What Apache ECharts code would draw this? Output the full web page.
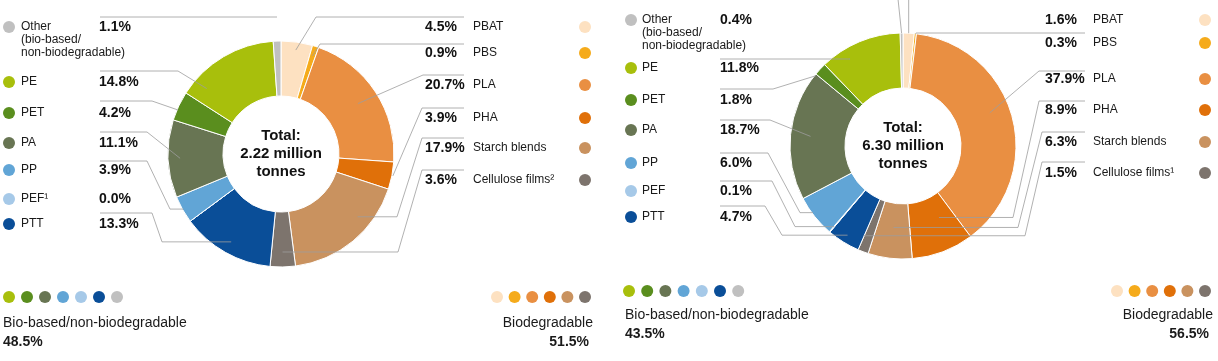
<!DOCTYPE html>
<html><head><meta charset="utf-8">
<script src="https://cdn.jsdelivr.net/npm/echarts@6/dist/echarts.min.js"></script>
<style>html,body{margin:0;padding:0;background:#fff}#c{width:1218px;height:361px}</style>
</head><body><div id="c"></div>
<script>
// ---- data ----
const categories = ['PBAT', 'PBS', 'PLA', 'PHA', 'Starch blends', 'Cellulose films', 'PTT', 'PEF', 'PP', 'PA', 'PET', 'PE', 'Other'];
const labelsLeft = ['PBAT', 'PBS', 'PLA', 'PHA', 'Starch blends', 'Cellulose films\u00B2', 'PTT', 'PEF\u00B9', 'PP', 'PA', 'PET', 'PE', 'Other\n(bio-based/\nnon-biodegradable)'];
const labelsRight = ['PBAT', 'PBS', 'PLA', 'PHA', 'Starch blends', 'Cellulose films\u00B9', 'PTT', 'PEF', 'PP', 'PA', 'PET', 'PE', 'Other\n(bio-based/\nnon-biodegradable)'];
const valuesLeft = [4.5, 0.9, 20.7, 3.9, 17.9, 3.6, 13.3, 0.0, 3.9, 11.1, 4.2, 14.8, 1.1];
const valuesRight = [1.6, 0.3, 37.9, 8.9, 6.3, 1.5, 4.7, 0.1, 6.0, 18.7, 1.8, 11.8, 0.4];
const colors = ['#fde1c1', '#f5ab1b', '#e98f42', '#e07009', '#c9925f', '#7d746d', '#0a4e98', '#a6c9e8', '#61a5d6', '#687553', '#5a8e1e', '#a8bf0c', '#c0c0c0'];
const totalLeft = ['Total:', '2.22 million', 'tonnes'];
const totalRight = ['Total:', '6.30 million', 'tonnes'];
const groupNames = ['Bio-based/non-biodegradable', 'Biodegradable'];
const groupLeft = [48.5, 51.5];
const groupRight = [43.5, 56.5];
const bioBasedOrder = ['PE', 'PET', 'PA', 'PP', 'PEF', 'PTT', 'Other'];
const biodegradableOrder = ['PBAT', 'PBS', 'PLA', 'PHA', 'Starch blends', 'Cellulose films'];

// ---- layout (positions/styles only) ----
const FONT = '"Liberation Sans", Arial, sans-serif';
const LINE = '#9d9d9d';
const charts = [
  {
    values: valuesLeft, labels: labelsLeft, totals: totalLeft, groups: groupLeft,
    center: [281, 154],
    leftCol: { dotX: 9, nameX: 21, pctX: 99, lineX: 100 },
    rightCol: { pctX: 425, nameX: 473, dotX: 585, lineX: 464 },
    bottom: { dotY: 297, textY: 323, pctY: 342, lDot: 9, lStep: 18, lText: 3, rDot: 497, rStep: 17.6, rText: 593, rPct: 589 },
    rows: {
      'PBAT': { y: 27, ly: 17, cx: 316, mode: 'diag', r: 105 },
      'PBS': { y: 53, ly: 44, cx: 320, mode: 'diag', r: 103 },
      'PLA': { y: 85, ly: 75, cx: 423, mode: 'diag', r: 92 },
      'PHA': { y: 118, ly: 108, cx: 422, mode: 'diag', r: 114 },
      'Starch blends': { y: 148, ly: 138, cx: 422, mode: 'elbow', ex: 397, r: 99, off: -11 },
      'Cellulose films': { y: 180, ly: 170, cx: 422, mode: 'elbow', ex: 398, r: 98 },
      'PTT': { y: 224, ly: 213, cx: 152, mode: 'elbow', ex: 162, r: 101 },
      'PEF': { y: 199, mode: 'none' },
      'PP': { y: 170, ly: 161, cx: 147, mode: 'elbow', ex: 170, r: 112 },
      'PA': { y: 143, ly: 132, cx: 147, mode: 'diag', r: 101 },
      'PET': { y: 113, ly: 101, cx: 152, mode: 'diag', r: 112, off: -2 },
      'PE': { y: 82, ly: 71, cx: 178, mode: 'diag', r: 99, off: -18 },
      'Other': { y: 27, ly: 17, cx: 277, mode: 'flat' }
    }
  },
  {
    values: valuesRight, labels: labelsRight, totals: totalRight, groups: groupRight,
    center: [903, 146],
    leftCol: { dotX: 631, nameX: 642, pctX: 720, lineX: 720 },
    rightCol: { pctX: 1045, nameX: 1093, dotX: 1205, lineX: 1085 },
    bottom: { dotY: 291, textY: 315, pctY: 334, lDot: 629, lStep: 18.2, lText: 625, rDot: 1117, rStep: 17.6, rText: 1213, rPct: 1209 },
    rows: {
      'PBAT': { y: 20, mode: 'up', r: 113, dx: 0 },
      'PBS': { y: 43, ly: 33, cx: 916, mode: 'diag', r: 113 },
      'PLA': { y: 79, ly: 71, cx: 1039, mode: 'diag', r: 93, off: -6 },
      'PHA': { y: 110, ly: 101, cx: 1039, mode: 'elbow', ex: 1013, r: 80, off: -6 },
      'Starch blends': { y: 142, ly: 132, cx: 1042, mode: 'elbow', ex: 1018, r: 82 },
      'Cellulose films': { y: 173, ly: 162, cx: 1042, mode: 'elbow', ex: 1025, r: 98, off: 3 },
      'PTT': { y: 217, ly: 206, cx: 765, mode: 'elbow', ex: 782, r: 105 },
      'PEF': { y: 191, ly: 181, cx: 772, mode: 'elbow', ex: 795, r: 106 },
      'PP': { y: 163, ly: 153, cx: 768, mode: 'elbow', ex: 800, r: 112, off: 2 },
      'PA': { y: 130, ly: 120, cx: 770, mode: 'diag', r: 93 },
      'PET': { y: 100, ly: 89, cx: 773, mode: 'diag', r: 112, off: -4 },
      'PE': { y: 68, ly: 59, cx: 850, mode: 'diag', r: 102, off: -9 },
      'Other': { y: 20, mode: 'up', r: 113, dx: -4 }
    }
  }
];

const LH = 13;
function isRightCol(i) { return biodegradableOrder.indexOf(categories[i]) >= 0; }

function richFor(chart) {
  const rich = {
    name: { fontFamily: FONT, fontSize: 12, color: '#1a1a1a', lineHeight: LH, width: chart.leftCol.pctX - chart.leftCol.nameX },
    rname: { fontFamily: FONT, fontSize: 12, color: '#1a1a1a', lineHeight: LH, width: chart.rightCol.dotX - 6 - chart.rightCol.nameX },
    pct: { fontFamily: FONT, fontSize: 14, fontWeight: 'bold', color: '#111', lineHeight: LH },
    rpct: { fontFamily: FONT, fontSize: 14, fontWeight: 'bold', color: '#111', lineHeight: LH, width: chart.rightCol.nameX - chart.rightCol.pctX },
    gap: { width: chart.leftCol.nameX - (chart.leftCol.dotX + 6), lineHeight: LH, fontSize: 12 },
    ind: { width: chart.leftCol.nameX - (chart.leftCol.dotX - 6), lineHeight: LH, fontSize: 12 }
  };
  colors.forEach((c, i) => {
    rich['d' + i] = { width: 12, height: 12, borderRadius: 6, backgroundColor: c, lineHeight: LH, fontSize: 12 };
  });
  return rich;
}

function midAngle(values, i) {
  const total = values.reduce((a, b) => a + b, 0);
  let before = 0;
  for (let k = 0; k < i; k++) before += values[k];
  return (before + values[i] / 2) / total * Math.PI * 2;
}

const pieBase = (chart) => ({
  type: 'pie',
  center: chart.center,
  radius: [58, 113],
  startAngle: 90,
  clockwise: true,
  avoidLabelOverlap: false,
  silent: true,
  animation: false,
  emphasis: { disabled: true }
});

function makeSeries(chart) {
  // colored ring
  const base = Object.assign(pieBase(chart), {
    z: 2,
    itemStyle: { borderColor: '#ffffff', borderWidth: 1 },
    label: { show: false },
    labelLine: { show: false },
    data: categories.map((cat, i) => ({ name: cat, value: chart.values[i], itemStyle: { color: colors[i] } }))
  });
  // transparent ring on top that carries the labels and leader lines
  const over = Object.assign(pieBase(chart), {
    z: 3,
    itemStyle: { color: 'rgba(0,0,0,0)', borderWidth: 0 },
    label: {
      show: true, position: 'outside', overflow: 'none', width: 240,
      rich: richFor(chart),
      formatter: (p) => {
        const i = p.dataIndex;
        const pct = chart.values[i].toFixed(1) + '%';
        const lines = chart.labels[i].split('\n');
        if (isRightCol(i)) {
          return '{rpct|' + pct + '}{rname|' + lines[0] + '}{d' + i + '| }';
        }
        let s = '{d' + i + '| }{gap| }{name|' + lines[0] + '}{pct|' + pct + '}';
        for (let k = 1; k < lines.length; k++) s += '\n{ind| }{name|' + lines[k] + '}';
        return s;
      }
    },
    labelLine: { show: true, showAbove: true, length: 6, length2: 6, lineStyle: { color: LINE, width: 0.8 } },
    labelLayout: (params) => {
      const i = params.dataIndex;
      const row = chart.rows[categories[i]];
      const right = isRightCol(i);
      const out = {
        x: right ? chart.rightCol.pctX : chart.leftCol.dotX - 6,
        y: row.y - LH / 2,
        align: 'left',
        verticalAlign: 'top'
      };
      if (row.mode === 'none') return out;
      const [cx, cy] = chart.center;
      let theta;
      const p = params.labelLinePoints;
      if (p && p[0]) theta = Math.atan2(p[0][0] - cx, -(p[0][1] - cy));
      else theta = midAngle(chart.values, i);
      theta += (row.off || 0) * Math.PI / 180;
      const r = row.r || 100;
      const end = [cx + r * Math.sin(theta), cy - r * Math.cos(theta)];
      const lx = right ? chart.rightCol.lineX : chart.leftCol.lineX;
      let pts;
      if (row.mode === 'diag') pts = [end, [row.cx, row.ly], [lx, row.ly]];
      else if (row.mode === 'elbow') pts = [end, [row.ex, end[1]], [row.cx, row.ly], [lx, row.ly]];
      else if (row.mode === 'flat') pts = [[row.cx, row.ly], [lx, row.ly]];
      else if (row.mode === 'up') pts = [end, [end[0] + (row.dx || 0), -5]];
      out.labelLinePoints = pts;
      return out;
    },
    data: categories.map((cat, i) => {
      const d = { name: cat, value: chart.values[i] };
      if (chart.rows[cat].mode === 'none') d.labelLine = { show: false };
      return d;
    })
  });
  return [base, over];
}

function makeGraphics(chart) {
  const g = [];
  g.push({
    type: 'text', x: chart.center[0], y: chart.center[1], z: 10,
    style: { text: chart.totals.join('\n'), font: 'bold 15px ' + FONT, fill: '#111', textAlign: 'center', textVerticalAlign: 'middle', lineHeight: 18 }
  });
  const b = chart.bottom;
  bioBasedOrder.forEach((cat, k) => {
    g.push({ type: 'circle', shape: { cx: b.lDot + k * b.lStep, cy: b.dotY, r: 6 }, style: { fill: colors[categories.indexOf(cat)] } });
  });
  biodegradableOrder.forEach((cat, k) => {
    g.push({ type: 'circle', shape: { cx: b.rDot + k * b.rStep, cy: b.dotY, r: 6 }, style: { fill: colors[categories.indexOf(cat)] } });
  });
  g.push({ type: 'text', x: b.lText, y: b.textY, style: { text: groupNames[0], font: '14px ' + FONT, fill: '#1a1a1a', textAlign: 'left', textVerticalAlign: 'middle' } });
  g.push({ type: 'text', x: b.lText, y: b.pctY, style: { text: chart.groups[0].toFixed(1) + '%', font: 'bold 14px ' + FONT, fill: '#1a1a1a', textAlign: 'left', textVerticalAlign: 'middle' } });
  g.push({ type: 'text', x: b.rText, y: b.textY, style: { text: groupNames[1], font: '14px ' + FONT, fill: '#1a1a1a', textAlign: 'right', textVerticalAlign: 'middle' } });
  g.push({ type: 'text', x: b.rPct, y: b.pctY, style: { text: chart.groups[1].toFixed(1) + '%', font: 'bold 14px ' + FONT, fill: '#1a1a1a', textAlign: 'right', textVerticalAlign: 'middle' } });
  return g;
}

const el = document.getElementById('c');
const ec = echarts.init(el, null, { renderer: 'canvas' });
ec.setOption({
  backgroundColor: '#ffffff',
  animation: false,
  series: charts.flatMap(makeSeries),
  graphic: { elements: charts.flatMap(makeGraphics) }
});
</script>
</body></html>
